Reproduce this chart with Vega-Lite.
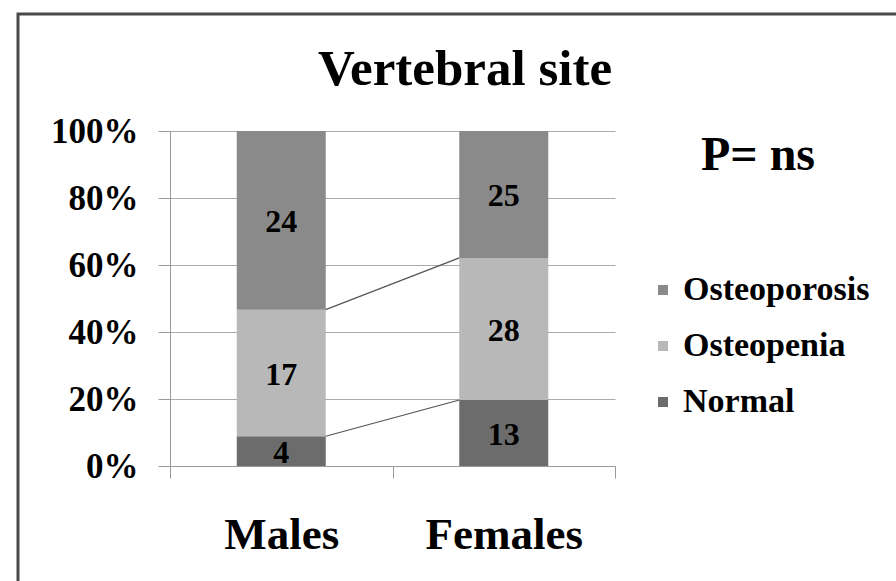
{
  "$schema": "https://vega.github.io/schema/vega-lite/v6.json",
  "width": 882,
  "height": 571,
  "autosize": {"type": "none"},
  "padding": {"left": 18, "top": 14, "right": -4, "bottom": -4},
  "background": "white",
  "config": {
    "view": {"stroke": "#4a4a4a", "strokeWidth": 3},
    "font": "Liberation Serif"
  },
  "title": {
    "text": "Vertebral site",
    "fontSize": 51,
    "fontWeight": "bold",
    "font": "Liberation Serif",
    "color": "black",
    "anchor": "middle",
    "frame": "group",
    "offset": 0,
    "baseline": "alphabetic",
    "dy": 122,
    "dx": 6
  },
  "data": {
    "values": [
      {"gender": "Males", "category": "Normal", "count": 4},
      {"gender": "Males", "category": "Osteopenia", "count": 17},
      {"gender": "Males", "category": "Osteoporosis", "count": 24},
      {"gender": "Females", "category": "Normal", "count": 13},
      {"gender": "Females", "category": "Osteopenia", "count": 28},
      {"gender": "Females", "category": "Osteoporosis", "count": 25}
    ]
  },
  "layer": [
    {
      "mark": {"type": "bar", "width": {"band": 0.4}},
      "encoding": {
        "x": {
          "field": "gender",
          "type": "nominal",
          "sort": ["Males", "Females"],
          "scale": {"range": [152, 597], "paddingInner": 0, "paddingOuter": 0},
          "axis": {
            "title": null,
            "offset": -119,
            "labelAngle": 0,
            "labelFont": "Liberation Serif",
            "labelFontSize": 45,
            "labelFontWeight": "bold",
            "labelColor": "black",
            "labelPadding": 34,
            "tickBand": "extent",
            "tickSize": 12,
            "tickColor": "#999999",
            "domainColor": "#999999",
            "grid": false
          }
        },
        "y": {
          "field": "count",
          "type": "quantitative",
          "stack": "normalize",
          "scale": {"domain": [0, 1], "range": [452, 117]},
          "axis": {
            "title": null,
            "format": ".0%",
            "values": [0, 0.2, 0.4, 0.6, 0.8, 1],
            "offset": -152,
            "labelFont": "Liberation Serif",
            "labelFontSize": 35,
            "labelFontWeight": "bold",
            "labelColor": "black",
            "labelPadding": 20,
            "tickSize": 12,
            "tickColor": "#999999",
            "domainColor": "#999999",
            "grid": true,
            "gridColor": "#aaaaaa",
            "gridWidth": 1.2
          }
        },
        "color": {
          "field": "category",
          "type": "nominal",
          "scale": {
            "domain": ["Osteoporosis", "Osteopenia", "Normal"],
            "range": ["#8a8a8a", "#b8b8b8", "#6c6c6c"]
          },
          "legend": {
            "title": "P= ns",
            "orient": "none",
            "legendX": 628,
            "legendY": 118,
            "titleFont": "Liberation Serif",
            "titleFontSize": 48,
            "titleFontWeight": "bold",
            "titleColor": "black",
            "titleAnchor": "middle",
            "titlePadding": 93,
            "titleLimit": 400,
            "labelFont": "Liberation Serif",
            "labelFontSize": 34,
            "labelFontWeight": "bold",
            "labelColor": "black",
            "labelOffset": 3,
            "labelLimit": 400,
            "symbolType": "square",
            "symbolSize": 100,
            "symbolStrokeWidth": 0,
            "rowPadding": 22
          }
        },
        "order": {"field": "category", "sort": "ascending"}
      }
    },
    {
      "transform": [
        {"joinaggregate": [{"op": "sum", "field": "count", "as": "total"}], "groupby": ["gender"]},
        {"window": [{"op": "sum", "field": "count", "as": "cum"}], "sort": [{"field": "category", "order": "ascending"}], "groupby": ["gender"], "frame": [null, 0]},
        {"calculate": "datum.cum / datum.total", "as": "pct"},
        {"filter": "datum.category != 'Osteoporosis'"},
        {"pivot": "gender", "value": "pct", "groupby": ["category"]}
      ],
      "mark": {"type": "rule", "color": "#555555", "strokeWidth": 1.2, "xOffset": 44.4, "x2Offset": -44.4},
      "encoding": {
        "x": {"datum": "Males", "type": "nominal"},
        "x2": {"datum": "Females"},
        "y": {"field": "Males", "type": "quantitative"},
        "y2": {"field": "Females"}
      }
    },
    {
      "transform": [
        {"joinaggregate": [{"op": "sum", "field": "count", "as": "total"}], "groupby": ["gender"]},
        {"window": [{"op": "sum", "field": "count", "as": "cum"}], "sort": [{"field": "category", "order": "ascending"}], "groupby": ["gender"], "frame": [null, 0]},
        {"calculate": "(datum.cum - datum.count / 2) / datum.total", "as": "mid"}
      ],
      "mark": {"type": "text", "font": "Liberation Serif", "fontSize": 32, "fontWeight": "bold", "color": "black", "baseline": "middle", "dy": 2},
      "encoding": {
        "x": {"field": "gender", "type": "nominal", "sort": ["Males", "Females"]},
        "y": {"field": "mid", "type": "quantitative"},
        "text": {"field": "count", "type": "quantitative"}
      }
    }
  ]
}
